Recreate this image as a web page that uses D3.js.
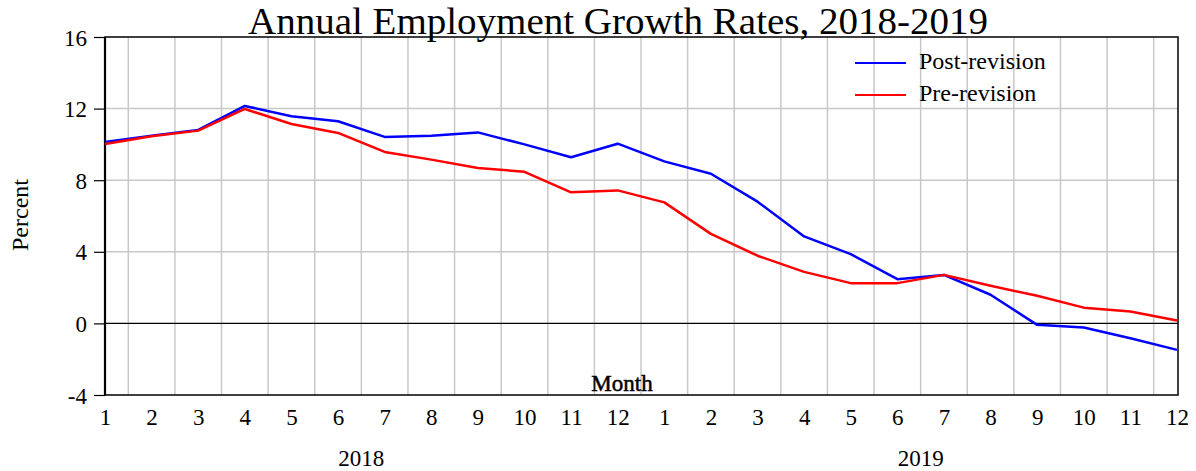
<!DOCTYPE html>
<html><head><meta charset="utf-8">
<script src="https://cdn.jsdelivr.net/npm/d3@7"></script>
<style>body{margin:0;background:#fff}svg{display:block}text{font-family:"Liberation Serif","Times New Roman",serif;fill:#000}</style>
</head><body><svg id="c" width="1196" height="471"></svg>
<script>
const months = ["1","2","3","4","5","6","7","8","9","10","11","12","1","2","3","4","5","6","7","8","9","10","11","12"];
const years = ["2018","2019"];
const postRevision = [10.14,10.49,10.81,12.15,11.57,11.29,10.42,10.49,10.67,10.0,9.28,10.04,9.05,8.36,6.8,4.86,3.87,2.47,2.71,1.6,-0.08,-0.23,-0.83,-1.48];
const preRevision = [10.02,10.45,10.77,11.98,11.14,10.64,9.58,9.15,8.68,8.47,7.32,7.43,6.76,5.0,3.78,2.88,2.25,2.25,2.71,2.1,1.54,0.88,0.66,0.16];
const yTicks = [-4,0,4,8,12,16];
const seriesNames = ["Post-revision","Pre-revision"];
const seriesColors = ["#0000ff","#ff0000"];

const svg = d3.select("#c");
const L=105, R=1178, T=37, B=395;
const x = d3.scaleLinear().domain([0, months.length-1]).range([L, 1177]);
const y = d3.scaleLinear().domain([-4,16]).range([B, T]);

// grid
const g = svg.append("g");
g.selectAll(".vg").data(d3.range(months.length-1)).join("line")
  .attr("x1",d=>x(d+0.5)).attr("x2",d=>x(d+0.5)).attr("y1",T).attr("y2",B)
  .attr("stroke","#c8c8c8").attr("stroke-width",1.5);
g.selectAll(".hg").data(yTicks.filter(v=>v>-4&&v<16&&v!==0)).join("line")
  .attr("x1",L).attr("x2",R).attr("y1",d=>y(d)).attr("y2",d=>y(d))
  .attr("stroke","#c8c8c8").attr("stroke-width",1.5);
// zero line
svg.append("line").attr("x1",L).attr("x2",R).attr("y1",y(0)).attr("y2",y(0)).attr("stroke","#000").attr("stroke-width",1.2);

// y axis
const yAxis = d3.axisLeft(y).tickValues(yTicks).tickSize(11).tickPadding(7).tickFormat(d=>String(d));
const ya = svg.append("g").attr("transform",`translate(${L},0)`).call(yAxis);
ya.select(".domain").remove();
ya.selectAll(".tick line").attr("stroke","#000").attr("stroke-width",1.2);
ya.selectAll(".tick text").attr("font-size",23).attr("fill","#000").attr("dy","0.35em");

// x axis
const xAxis = d3.axisBottom(x).tickValues(d3.range(months.length)).tickFormat(i=>months[i]).tickSize(0).tickPadding(14);
const xa = svg.append("g").attr("transform",`translate(0,${B})`).call(xAxis);
xa.select(".domain").remove();
xa.selectAll(".tick text").attr("font-size",23).attr("fill","#000");

// frame
svg.append("rect").attr("x",L).attr("y",T).attr("width",R-L).attr("height",B-T)
  .attr("fill","none").attr("stroke","#000").attr("stroke-width",1.5);
svg.append("line").attr("x1",L).attr("x2",L).attr("y1",T).attr("y2",B).attr("stroke","#000").attr("stroke-width",2.2);

// years
svg.selectAll(".yr").data(years).join("text")
  .attr("x",(d,i)=>x(i*12+5.5)).attr("y",466).attr("text-anchor","middle").attr("font-size",23).text(d=>d);

// lines
const line = d3.line().x((d,i)=>x(i)).y(d=>y(d));
[postRevision, preRevision].forEach((s,k)=>{
  svg.append("path").datum(s).attr("d",line).attr("fill","none")
    .attr("stroke",seriesColors[k]).attr("stroke-width",2.5).attr("stroke-linejoin","round");
});

// legend
seriesNames.forEach((n,k)=>{
  const ly = 63 + k*32;
  svg.append("line").attr("x1",855).attr("x2",906).attr("y1",ly).attr("y2",ly)
    .attr("stroke",seriesColors[k]).attr("stroke-width",2);
  svg.append("text").attr("x",919).attr("y",ly+6).attr("font-size",24).text(n);
});

// labels
svg.append("text").attr("x",618).attr("y",34).attr("text-anchor","middle").attr("font-size",37)
  .attr("textLength",740).attr("lengthAdjust","spacingAndGlyphs").text("Annual Employment Growth Rates, 2018-2019");
svg.append("text").attr("x",622).attr("y",391).attr("text-anchor","middle").attr("font-size",23)
  .attr("stroke","#000").attr("stroke-width",0.5).text("Month");
svg.append("text").attr("transform","translate(28,215) rotate(-90)").attr("text-anchor","middle").attr("font-size",24).text("Percent");
</script></body></html>
